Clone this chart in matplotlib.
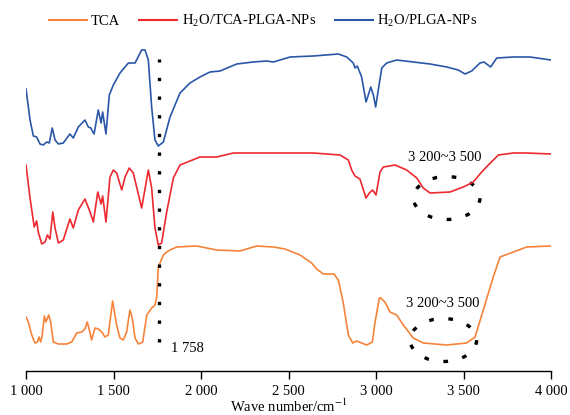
import matplotlib
matplotlib.use("Agg")
import matplotlib.pyplot as plt
from matplotlib.patches import Ellipse
from matplotlib.lines import Line2D

plt.rcParams['font.family'] = ['Liberation Serif', 'DejaVu Serif']
plt.rcParams['mathtext.fontset'] = 'stix'

# FTIR spectra (transmittance, arbitrary offset units)
wn_pnp = [1000, 1023, 1042, 1061, 1080, 1099, 1118, 1133, 1150, 1166, 1185, 1213, 1251, 1270,
          1299, 1337, 1356, 1370, 1389, 1413, 1429, 1438, 1457, 1476, 1499, 1537, 1585, 1623,
          1661, 1680, 1699, 1718, 1737, 1756, 1785, 1823, 1880, 1937, 1994, 2051, 2109, 2204,
          2299, 2375, 2413, 2509, 2642, 2785, 2833, 2870, 2880, 2893, 2918, 2943, 2956, 2970,
          2985, 2998, 3013, 3033, 3061, 3118, 3213, 3309, 3404, 3470, 3509, 3547, 3594, 3617,
          3655, 3690, 3785, 3880, 4000]
t_pnp = [282, 251, 235, 234, 227, 226, 229, 228, 243, 231, 227, 228, 237, 233,
         244, 251, 244, 243, 237, 261, 248, 259, 237, 276, 286, 298, 308, 308,
         321, 321, 311, 264, 231, 225, 229, 254, 278, 288, 294, 299, 300, 307,
         309, 310, 309, 314, 315, 317, 314, 308, 303, 305, 294, 269, 276, 284,
         276, 264, 281, 303, 308, 311, 309, 307, 304, 301, 297, 300, 308, 309,
         304, 313, 314, 314, 311]

wn_tnp = [1000, 1023, 1047, 1061, 1070, 1090, 1109, 1122, 1137, 1153, 1166, 1185, 1213, 1251,
          1270, 1299, 1337, 1366, 1385, 1410, 1429, 1438, 1457, 1480, 1499, 1518, 1547, 1566,
          1590, 1613, 1661, 1699, 1718, 1737, 1756, 1775, 1804, 1842, 1880, 1994, 2090, 2185,
          2375, 2509, 2642, 2794, 2842, 2861, 2880, 2908, 2943, 2962, 2981, 3000, 3023, 3042,
          3109, 3175, 3233, 3270, 3309, 3423, 3499, 3556, 3604, 3642, 3699, 3785, 3861, 4000]
t_tnp = [206, 173, 144, 150, 139, 127, 129, 136, 132, 159, 143, 128, 131, 152,
         143, 161, 172, 159, 149, 179, 167, 175, 149, 194, 201, 198, 181, 194,
         203, 198, 163, 201, 183, 143, 126, 128, 159, 193, 206, 214, 214, 218,
         218, 218, 218, 216, 211, 201, 195, 192, 173, 178, 181, 176, 199, 204,
         206, 201, 193, 183, 178, 179, 184, 189, 199, 206, 216, 218, 218, 217]

wn_tca = [1000, 1013, 1033, 1051, 1065, 1074, 1084, 1093, 1105, 1114, 1130, 1141, 1156, 1185,
          1233, 1261, 1290, 1318, 1337, 1350, 1362, 1375, 1394, 1413, 1433, 1451, 1470, 1495,
          1518, 1537, 1556, 1575, 1594, 1607, 1623, 1642, 1667, 1690, 1718, 1737, 1747, 1756,
          1766, 1785, 1804, 1823, 1861, 1975, 2090, 2223, 2261, 2318, 2413, 2480, 2566, 2632,
          2661, 2699, 2760, 2785, 2813, 2842, 2867, 2890, 2918, 2947, 2979, 2994, 3019, 3027,
          3051, 3080, 3118, 3156, 3213, 3270, 3404, 3518, 3566, 3613, 3670, 3709, 3785, 3861, 4000]
t_tca = [54, 49, 36, 28, 29, 34, 29, 36, 55, 49, 56, 49, 29, 27,
         27, 29, 38, 39, 42, 49, 41, 31, 43, 42, 39, 34, 36, 70,
         46, 33, 31, 39, 61, 53, 33, 27, 29, 56, 63, 66, 74, 103,
         108, 116, 119, 121, 124, 125, 121, 120, 122, 125, 124, 122, 116, 108,
         102, 97, 97, 91, 68, 36, 28, 30, 28, 26, 29, 48, 73, 73,
         69, 59, 56, 46, 33, 28, 26, 28, 34, 61, 94, 114, 119, 124, 125]

xticks = [1000, 1500, 2000, 2500, 3000, 3500, 4000]
xticklabels = ['1 000', '1 500', '2 000', '2 500', '3 000', '3 500', '4 000']

c_tca = '#F5843A'
c_tnp = '#EC2A30'
c_pnp = '#2A57A8'

fig = plt.figure(figsize=(5.7, 4.15), dpi=100)
ax = fig.add_axes([26 / 570, 44 / 415, 525 / 570, 331 / 415])

for wn, t, c in [(wn_tca, t_tca, c_tca), (wn_tnp, t_tnp, c_tnp), (wn_pnp, t_pnp, c_pnp)]:
    ax.plot(wn, t, color=c, lw=1.2, solid_joinstyle='round')

# 1758 marker line
dots = (0, (1.0, 4.6))
ax.plot([1758, 1758], [29, 312], color='black', lw=2.4, linestyle=dots,
        dash_capstyle='butt')
ax.text(1830, 23, '1 758', fontsize=10.5, va='center', ha='left')

# O-H stretch regions
for cx, cy in [(3404, 173), (3385, 31)]:
    ax.add_patch(Ellipse((cx, cy), 380, 43, fill=False, edgecolor='black', lw=2.4,
                         linestyle=(0, (1.4, 4.4)), capstyle='butt'))
ax.text(3390, 214, '3 200~3 500', fontsize=10.5, ha='center', va='center')
ax.text(3380, 68, '3 200~3 500', fontsize=10.5, ha='center', va='center')

ax.set_xlim(1000, 4000)
ax.set_ylim(0, 331)
ax.set_xticks(xticks)
ax.set_xticklabels(xticklabels, fontsize=10.5)
ax.set_yticks([])
ax.tick_params(axis='x', direction='out', length=6, width=1, pad=4)
for s in ['top', 'right', 'left']:
    ax.spines[s].set_visible(False)
ax.spines['bottom'].set_linewidth(1)
ax.set_xlabel('Wave number/cm$^{-1}$', fontsize=10.5, labelpad=0)

handles = [Line2D([], [], color=c_tca, lw=1.5),
           Line2D([], [], color=c_tnp, lw=1.5),
           Line2D([], [], color=c_pnp, lw=1.5)]
labels = ['TCA', 'H$_\\mathregular{2}$O/TCA-PLGA-NPs', 'H$_\\mathregular{2}$O/PLGA-NPs']
fig.legend(handles, labels, loc='center', bbox_to_anchor=(263 / 570, 1 - 21 / 415), ncol=3,
           frameon=False, fontsize=10.5, handlelength=2.6, handletextpad=0.3,
           columnspacing=1.3)

fig.savefig('out.png', dpi=100)
